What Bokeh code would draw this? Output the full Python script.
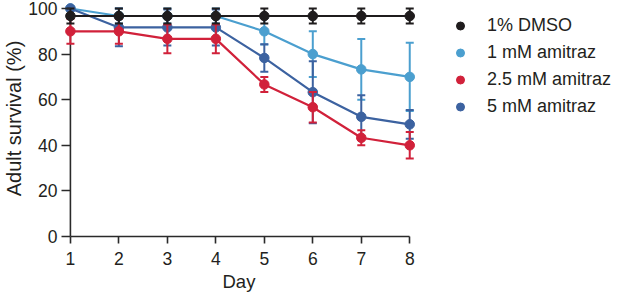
from bokeh.plotting import figure
from bokeh.models import Range1d, FixedTicker, Legend, LegendItem, Title
from bokeh.embed import file_html
from bokeh.resources import INLINE

days = [1, 2, 3, 4, 5, 6, 7, 8]

series_names = ["1% DMSO", "1 mM amitraz", "2.5 mM amitraz", "5 mM amitraz"]
dmso = [96.7, 96.7, 96.7, 96.7, 96.7, 96.7, 96.7, 96.7]
dmso_err = [3.3, 3.3, 3.3, 3.3, 3.3, 3.3, 3.3, 3.3]
ami1 = [100, 96.7, 96.7, 96.7, 90, 80, 73.3, 70]
ami1_err = [0, 3.3, 3.3, 3.3, 5.8, 10, 13.3, 15]
ami25 = [90, 90, 86.7, 86.7, 66.7, 56.7, 43.3, 40]
ami25_err = [5.5, 5.5, 6.3, 6.3, 3.3, 6.7, 3.3, 5.8]
ami5 = [100, 91.7, 91.7, 91.7, 78.3, 63.3, 52.5, 49.2]
ami5_err = [0, 8.3, 7.9, 7.9, 6.0, 13.6, 9.5, 6.3]

y_ticks = [0, 20, 40, 60, 80, 100]

C_BLACK = "#1f1c1d"
C_LIGHT = "#4b9fcf"
C_RED = "#d1213a"
C_DARK = "#3c62a0"
AXIS_C = "#2a2a2a"
TEXT_C = "#231f20"
FONT = "Liberation Sans"

px_per_day = 49.0
pad_left_days = 8 / px_per_day
pad_right_days = 210 / px_per_day   # room on the right for the legend
px_per_pct = 2.28
top_pad = 8 / px_per_pct

p = figure(width=617, height=294, output_backend="svg", toolbar_location=None,
           x_range=Range1d(days[0] - pad_left_days, days[-1] + pad_right_days),
           y_range=Range1d(0, 100 + top_pad),
           min_border_left=56, min_border_right=0, min_border_top=0, min_border_bottom=58)
p.outline_line_color = None
p.grid.visible = False
p.background_fill_color = "white"
p.border_fill_color = "white"

# x axis
xa = p.xaxis[0]
xa.ticker = FixedTicker(ticks=days)
xa.bounds = (days[0], days[-1])
xa.axis_line_color = AXIS_C
xa.axis_line_width = 1.6
xa.major_tick_line_color = AXIS_C
xa.major_tick_line_width = 1.6
xa.major_tick_in = 0
xa.major_tick_out = 7
xa.minor_tick_line_color = None
xa.major_label_standoff = 8
xa.major_label_text_font = FONT
xa.major_label_text_font_size = "17.5px"
xa.major_label_text_color = TEXT_C

# x axis title, centred under the day axis (not under the whole frame)
day_title = Title(text="Day", align="left", offset=160, standoff=3,
                  text_font=FONT, text_font_size="18.5px", text_font_style="normal",
                  text_color=TEXT_C)
p.add_layout(day_title, "below")

# y axis (line drawn at x=1 below)
ya = p.yaxis[0]
ya.ticker = FixedTicker(ticks=y_ticks)
ya.bounds = (0, 100)
ya.axis_line_color = None
ya.major_tick_line_color = AXIS_C
ya.major_tick_line_width = 1.6
ya.major_tick_in = 8
ya.major_tick_out = 1
ya.minor_tick_line_color = None
ya.major_label_standoff = 4
ya.major_label_text_font = FONT
ya.major_label_text_font_size = "17.5px"
ya.major_label_text_color = TEXT_C
ya.axis_label = "Adult survival (%)"
ya.axis_label_text_font = FONT
ya.axis_label_text_font_size = "20px"
ya.axis_label_text_font_style = "normal"
ya.axis_label_text_color = TEXT_C
ya.axis_label_standoff = 0

p.segment(x0=[days[0]], y0=[y_ticks[0]], x1=[days[0]], y1=[y_ticks[-1]],
          line_color=AXIS_C, line_width=1.6)

def draw(vals, errs, color):
    lo = [v - e for v, e in zip(vals, errs)]
    hi = [v + e for v, e in zip(vals, errs)]
    p.line(days, vals, line_color=color, line_width=2.2)
    p.segment(x0=days, y0=lo, x1=days, y1=hi, line_color=color, line_width=2)
    p.scatter(days, lo, marker="dash", size=8, line_color=color, line_width=2)
    p.scatter(days, hi, marker="dash", size=8, line_color=color, line_width=2)
    p.scatter(days, vals, marker="circle", size=9.5, fill_color=color, line_color=color)

draw(ami1, ami1_err, C_LIGHT)
draw(ami5, ami5_err, C_DARK)
draw(ami25, ami25_err, C_RED)
draw(dmso, dmso_err, C_BLACK)

nan = float("nan")
items = []
for name, c in zip(series_names, [C_BLACK, C_LIGHT, C_RED, C_DARK]):
    r = p.scatter(x=[nan], y=[nan], marker="circle", size=7, fill_color=c, line_color=c)
    items.append(LegendItem(label=name, renderers=[r]))

legend = Legend(items=items, location=(388, 119), padding=0, margin=0,
                spacing=6, glyph_width=20, glyph_height=21, label_height=21,
                label_standoff=17, label_text_font=FONT, label_text_font_size="18px",
                label_text_color=TEXT_C, border_line_color=None,
                background_fill_alpha=0)
p.add_layout(legend, "center")

open("out.html", "w").write(file_html(p, INLINE))
